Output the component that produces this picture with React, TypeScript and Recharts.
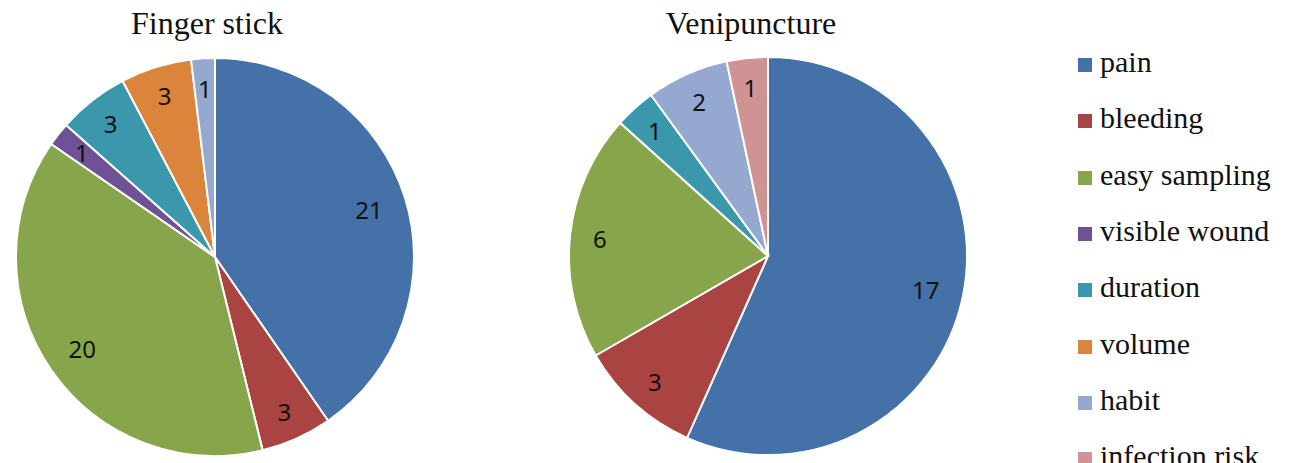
import React from "react";
import { PieChart, Pie, Cell } from "recharts";

const categories = [
  "pain",
  "bleeding",
  "easy sampling",
  "visible wound",
  "duration",
  "volume",
  "habit",
  "infection risk",
];

const colors = [
  "#4472A8",
  "#A94442",
  "#87A54B",
  "#6E5295",
  "#3A97AC",
  "#DB843C",
  "#94A8D0",
  "#D09394",
];

const fingerStickCategories = ["pain", "bleeding", "easy sampling", "visible wound", "duration", "volume", "habit"];
const fingerStickValues = [21, 3, 20, 1, 3, 3, 1];

const venipunctureCategories = ["pain", "bleeding", "easy sampling", "duration", "habit", "infection risk"];
const venipunctureValues = [17, 3, 6, 1, 2, 1];

const fingerData = fingerStickCategories.map((name, i) => ({ name, value: fingerStickValues[i] }));
const veniData = venipunctureCategories.map((name, i) => ({ name, value: venipunctureValues[i] }));

const RADIAN = Math.PI / 180;

const renderLabel = (props: any) => {
  const { cx, cy, midAngle, outerRadius, value, percent } = props;
  const r = outerRadius * (percent > 0.3 ? 0.81 : 0.85);
  const x = cx + r * Math.cos(-midAngle * RADIAN);
  const y = cy + r * Math.sin(-midAngle * RADIAN);
  return (
    <text
      x={x}
      y={y}
      fill="#111"
      textAnchor="middle"
      dominantBaseline="central"
      fontFamily="'Noto Sans', 'Open Sans', sans-serif"
      fontSize={24}
    >
      {value}
    </text>
  );
};

const colorOf = (name: string) => colors[categories.indexOf(name)];

export default function App() {
  const serif = "'Liberation Serif', 'Times New Roman', serif";
  return (
    <div style={{ position: "relative", width: 1290, height: 463, background: "#fff", overflow: "hidden" }}>
      <style>{`body{margin:0;}`}</style>
      <PieChart width={1290} height={463} margin={{ top: 0, right: 0, bottom: 0, left: 0 }}>
        <Pie
          data={fingerData}
          dataKey="value"
          nameKey="name"
          cx={215}
          cy={257}
          outerRadius={199}
          startAngle={90}
          endAngle={-270}
          stroke="#fff"
          strokeWidth={2}
          label={renderLabel}
          labelLine={false}
          isAnimationActive={false}
        >
          {fingerData.map((d) => (
            <Cell key={d.name} fill={colorOf(d.name)} />
          ))}
        </Pie>
        <Pie
          data={veniData}
          dataKey="value"
          nameKey="name"
          cx={768}
          cy={256}
          outerRadius={199}
          startAngle={90}
          endAngle={-270}
          stroke="#fff"
          strokeWidth={2}
          label={renderLabel}
          labelLine={false}
          isAnimationActive={false}
        >
          {veniData.map((d) => (
            <Cell key={d.name} fill={colorOf(d.name)} />
          ))}
        </Pie>
      </PieChart>
      <div
        style={{
          position: "absolute",
          left: 107,
          width: 200,
          top: 7,
          textAlign: "center",
          fontFamily: serif,
          fontSize: 32,
          lineHeight: "32px",
          color: "#111",
        }}
      >
        Finger stick
      </div>
      <div
        style={{
          position: "absolute",
          left: 651,
          width: 200,
          top: 7,
          textAlign: "center",
          fontFamily: serif,
          fontSize: 32,
          lineHeight: "32px",
          color: "#111",
        }}
      >
        Venipuncture
      </div>
      {categories.map((c, i) => (
        <div
          key={c}
          style={{
            position: "absolute",
            left: 1078,
            top: 47 + i * 56.3,
            height: 30,
            display: "flex",
            alignItems: "center",
            fontFamily: serif,
            fontSize: 30,
            lineHeight: "30px",
            color: "#111",
            whiteSpace: "nowrap",
          }}
        >
          <span
            style={{
              display: "inline-block",
              width: 14,
              height: 14,
              background: colors[i],
              marginRight: 8,
              marginTop: 6,
            }}
          />
          {c}
        </div>
      ))}
    </div>
  );
}
